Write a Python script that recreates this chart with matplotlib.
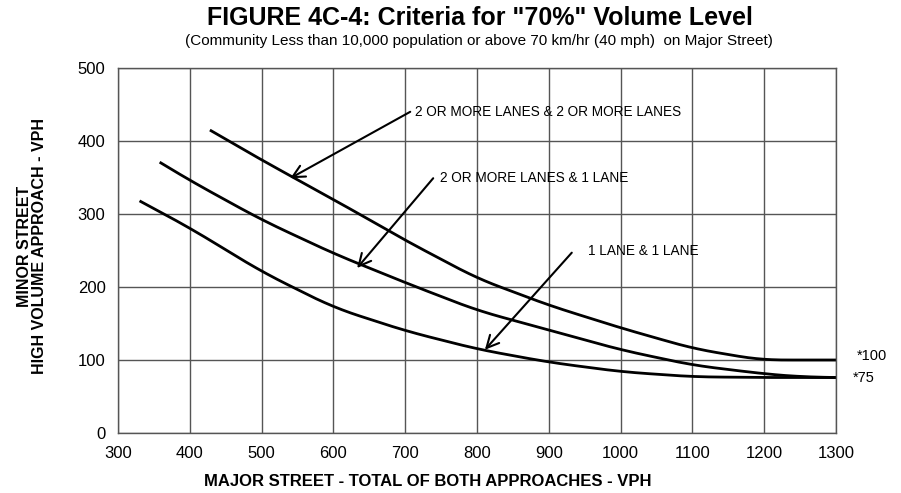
import numpy as np
import matplotlib
matplotlib.use("Agg")
import matplotlib.pyplot as plt

plt.rcParams['font.family'] = ['Liberation Sans', 'DejaVu Sans']

# curve data (major street vph, minor street vph)
one_one_x = [330, 400, 500, 600, 700, 800, 900, 1000, 1100, 1200, 1300]
one_one_y = [318, 281, 221, 172, 140, 115, 97, 84, 77, 76, 76]

two_one_x = [358, 400, 500, 600, 700, 800, 900, 1000, 1100, 1200, 1250, 1300]
two_one_y = [371, 346, 292, 246, 206, 168, 141, 114, 93, 81, 77, 76]

two_two_x = [428, 500, 600, 700, 800, 900, 1000, 1100, 1176, 1200, 1300]
two_two_y = [415, 374, 320, 264, 212, 175, 144, 116, 103, 100, 100]

x_ticks = list(range(300, 1301, 100))
y_ticks = list(range(0, 501, 100))


def smooth(xs, ys):
    # dense linear interpolation of the read points, then a light running mean
    xd = np.linspace(xs[0], xs[-1], 400)
    yd = np.interp(xd, xs, ys)
    k = 14
    pad = np.pad(yd, k, mode='reflect', reflect_type='odd')
    yd = np.convolve(pad, np.ones(2 * k + 1) / (2 * k + 1), mode='valid')
    return xd, yd


fig = plt.figure(figsize=(9.01, 4.93), dpi=100)
ax = fig.add_axes([118 / 901, 60 / 493, 718 / 901, 365 / 493])

ax.set_xlim(300, 1300)
ax.set_ylim(0, 500)
ax.set_xticks(x_ticks)
ax.set_yticks(y_ticks)
ax.tick_params(length=0, labelsize=12, pad=9)
ax.grid(True, color='#555555', linewidth=1.0)
ax.set_axisbelow(True)
for s in ax.spines.values():
    s.set_color('#555555')
    s.set_linewidth(1.0)

for xs, ys in [(one_one_x, one_one_y), (two_one_x, two_one_y), (two_two_x, two_two_y)]:
    xd, yd = smooth(xs, ys)
    ax.plot(xd, yd, color='black', linewidth=2.0, solid_capstyle='butt')

arrow = dict(arrowstyle='->', color='black', lw=1.5, mutation_scale=22, shrinkA=0, shrinkB=0)
ax.annotate('', xy=(540, 349), xytext=(707, 440), arrowprops=arrow)
ax.text(714, 440, '2 OR MORE LANES & 2 OR MORE LANES', fontsize=9.8, va='center', ha='left')
ax.annotate('', xy=(633, 226), xytext=(739, 349), arrowprops=arrow)
ax.text(748, 349, '2 OR MORE LANES & 1 LANE', fontsize=9.8, va='center', ha='left')
ax.annotate('', xy=(811, 114), xytext=(932, 247), arrowprops=arrow)
ax.text(955, 249, '1 LANE & 1 LANE', fontsize=9.8, va='center', ha='left')

ax.text(1329, 106, '*100', fontsize=10.5, va='center', ha='left', clip_on=False)
ax.text(1324, 75, '*75', fontsize=10.5, va='center', ha='left', clip_on=False)

fig.text(480 / 901, 1 - 18 / 493, 'FIGURE 4C-4: Criteria for "70%" Volume Level',
         fontsize=18, fontweight='bold', ha='center', va='center')
fig.text(479 / 901, 1 - 41 / 493,
         '(Community Less than 10,000 population or above 70 km/hr (40 mph)  on Major Street)',
         fontsize=11, ha='center', va='center')
fig.text(428 / 901, 1 - 481 / 493, 'MAJOR STREET - TOTAL OF BOTH APPROACHES - VPH',
         fontsize=12, fontweight='bold', ha='center', va='center')
fig.text(32 / 901, 1 - 246 / 493, 'MINOR STREET\nHIGH VOLUME APPROACH - VPH',
         fontsize=11.5, fontweight='bold', ha='center', va='center', rotation=90,
         multialignment='center', linespacing=1.05)

fig.savefig('out.png', dpi=100)
